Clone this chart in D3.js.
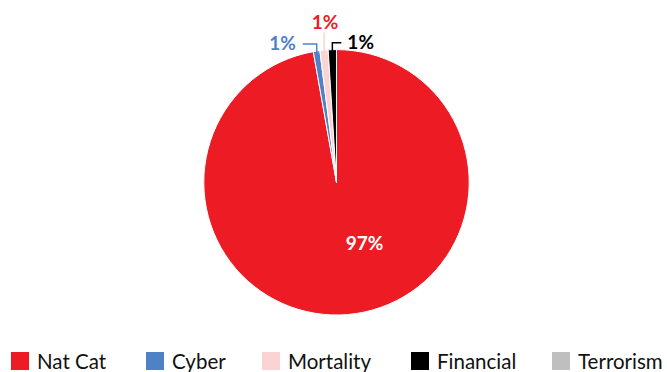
<!DOCTYPE html>
<html>
<head>
<meta charset="utf-8">
<script src="https://cdn.jsdelivr.net/npm/d3@7"></script>
<style>
  html, body { margin: 0; padding: 0; background: #fff; }
  svg { display: block; font-family: Lato, "Open Sans", sans-serif; }
</style>
</head>
<body>
<svg id="chart" width="667" height="372"></svg>
<script>
// Share of losses by line of business (%)
const categories = ["Nat Cat", "Cyber", "Mortality", "Financial", "Terrorism"];
const shares = [97.2, 0.8, 1.0, 1.0, 0];
const colors = ["#ED1C24", "#4F81C7", "#FAD4D4", "#000000", "#BFBFBF"];
const labelColors = ["#ffffff", "#4F81C7", "#ED1C24", "#000000", "#000000"];

const svg = d3.select("#chart");
const cx = 336.5, cy = 182.3, radius = 132.7;

const pie = d3.pie().sort(null).value(d => d.value);
const data = categories.map((c, i) => ({ name: c, value: shares[i], i }));
const arcs = pie(data);
const arc = d3.arc().innerRadius(0).outerRadius(radius);

const g = svg.append("g").attr("transform", `translate(${cx},${cy})`);

g.selectAll("path.slice")
  .data(arcs.filter(a => a.data.value > 0))
  .join("path")
  .attr("class", "slice")
  .attr("d", arc)
  .attr("fill", d => colors[d.data.i])
  .attr("stroke", "#fff")
  .attr("stroke-width", 1);

const fmt = v => Math.round(v) + "%";
const mid = a => (a.startAngle + a.endAngle) / 2;
const pt = (ang, r) => [Math.sin(ang) * r, -Math.cos(ang) * r];

// Large slice: label inside
const big = arcs[0];
const [bx, by] = pt(Math.PI * 0.86, 66);
g.append("text")
  .attr("x", bx).attr("y", by)
  .attr("text-anchor", "middle")
  .attr("dominant-baseline", "central")
  .attr("fill", labelColors[0])
  .attr("font-weight", 700)
  .attr("font-size", 19)
  .text(fmt(big.data.value));

// Small slices: callout labels with elbow leaders
const callouts = [
  { i: 1, rise: 8, run: -14, anchor: "end" },
  { i: 2, rise: 19, run: 0, anchor: "middle" },
  { i: 3, rise: 8, run: 9, anchor: "start" }
];
callouts.forEach(c => {
  const a = arcs[c.i];
  const [x0, y0] = pt(mid(a), radius - 1);
  const y1 = y0 - c.rise;
  const x2 = x0 + c.run;
  const col = colors[c.i];
  g.append("polyline")
    .attr("points", [[x0, y0 + 2], [x0, y1], [x2, y1]].map(p => p.join(",")).join(" "))
    .attr("fill", "none")
    .attr("stroke", col)
    .attr("stroke-width", 1.5);
  let tx, ty;
  if (c.anchor === "middle") { tx = x0 + 1; ty = y1 - 3; }
  else if (c.anchor === "end") { tx = x2 - 7; ty = y1 + 6; }
  else { tx = x2 + 6; ty = y1 + 6; }
  g.append("text")
    .attr("x", tx).attr("y", ty)
    .attr("text-anchor", c.anchor)
    .attr("fill", labelColors[c.i])
    .attr("font-weight", 700)
    .attr("font-size", 19)
    .text(fmt(a.data.value));
});

// Legend
const legendX = [11, 146, 262, 411, 552];
const legend = svg.append("g").attr("transform", "translate(0,352)");
const items = legend.selectAll("g.item")
  .data(categories)
  .join("g")
  .attr("class", "item")
  .attr("transform", (d, i) => `translate(${legendX[i]},0)`);
items.append("rect")
  .attr("width", 18).attr("height", 18)
  .attr("fill", (d, i) => colors[i]);
items.append("text")
  .attr("x", 26).attr("y", 16.5)
  .attr("font-size", 20.5)
  .attr("fill", "#111")
  .text(d => d);
</script>
</body>
</html>
